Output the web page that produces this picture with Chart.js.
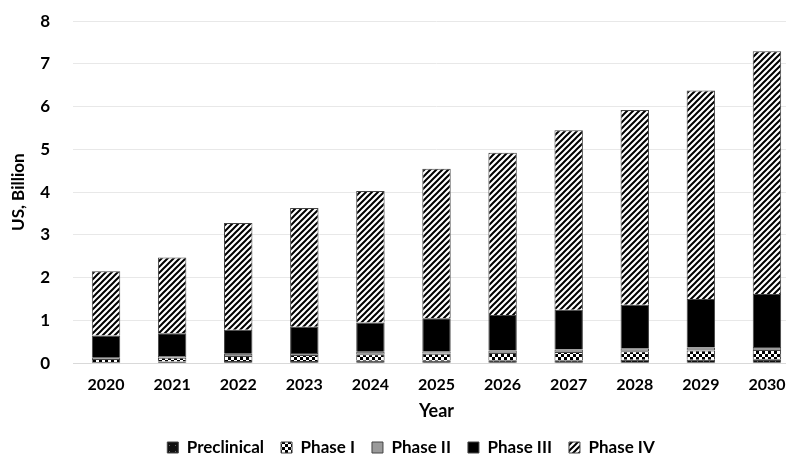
<!DOCTYPE html>
<html>
<head>
<meta charset="utf-8">
<script src="https://cdn.jsdelivr.net/npm/chart.js@4.4.0/dist/chart.umd.min.js"></script>
<style>
  html, body { margin: 0; padding: 0; background: #fff; overflow: hidden; }
  #wrap { width: 800px; height: 478px; margin-top: -12px; }
</style>
</head>
<body>
<div id="wrap"><canvas id="myChart"></canvas></div>
<script>
const years = ['2020', '2021', '2022', '2023', '2024', '2025', '2026', '2027', '2028', '2029', '2030'];
const preclinical = [0.03, 0.04, 0.05, 0.05, 0.06, 0.06, 0.07, 0.07, 0.08, 0.08, 0.09];
const phase1 = [0.07, 0.09, 0.12, 0.14, 0.15, 0.16, 0.17, 0.19, 0.20, 0.22, 0.22];
const phase2 = [0.03, 0.04, 0.05, 0.05, 0.06, 0.06, 0.06, 0.06, 0.07, 0.07, 0.07];
const phase3 = [0.52, 0.53, 0.56, 0.61, 0.68, 0.77, 0.83, 0.93, 1.02, 1.13, 1.24];
const phase4 = [1.50, 1.77, 2.50, 2.78, 3.08, 3.50, 3.79, 4.20, 4.55, 4.88, 5.68];

function makePattern(size, draw) {
    const c = document.createElement('canvas');
    c.width = size;
    c.height = size;
    const g = c.getContext('2d');
    draw(g, size);
    return g.createPattern(c, 'repeat');
}

const ctx = document.getElementById('myChart').getContext('2d');

// diagonal hatch for phase IV
const hatch = makePattern(6, function (g, s) {
    g.fillStyle = '#fff';
    g.fillRect(0, 0, s, s);
    g.strokeStyle = '#000';
    g.lineWidth = 2;
    g.beginPath();
    g.moveTo(-1, s + 1); g.lineTo(s + 1, -1);
    g.moveTo(-1, 1); g.lineTo(1, -1);
    g.moveTo(s - 1, s + 1); g.lineTo(s + 1, s - 1);
    g.stroke();
});

// checker for phase I
const checker = makePattern(6, function (g, s) {
    g.fillStyle = '#000';
    g.fillRect(0, 0, s, s);
    g.fillStyle = '#fff';
    g.fillRect(0, 0, 3, 3);
    g.fillRect(3, 3, 3, 3);
});

// dark dotted for preclinical
const dotted = makePattern(6, function (g, s) {
    g.fillStyle = '#111';
    g.fillRect(0, 0, s, s);
    g.fillStyle = '#666';
    g.fillRect(1, 1, 1, 1);
});

const font = 'Lato, "Open Sans", sans-serif';

const myChart = new Chart(ctx, {
    type: 'bar',
    data: {
        labels: years,
        datasets: [
            { label: 'Preclinical', data: preclinical, backgroundColor: dotted },
            { label: 'Phase I', data: phase1, backgroundColor: checker },
            { label: 'Phase II', data: phase2, backgroundColor: '#9a9a9a' },
            { label: 'Phase III', data: phase3, backgroundColor: '#000' },
            { label: 'Phase IV', data: phase4, backgroundColor: hatch }
        ].map(function (d) {
            d.borderColor = '#444';
            d.borderWidth = 1;
            d.categoryPercentage = 1;
            d.barPercentage = 0.43;
            return d;
        })
    },
    options: {
        responsive: true,
        maintainAspectRatio: false,
        animation: false,
        layout: { padding: { top: 2, left: 22, right: 0, bottom: 0 } },
        scales: {
            x: {
                stacked: true,
                grid: { display: false },
                border: { color: '#d9d9d9' },
                ticks: { color: '#000', padding: 4, font: { family: font, size: 16, weight: 'bold' } },
                title: {
                    display: true, text: 'Year', color: '#000',
                    font: { family: font, size: 18, weight: 'bold' }, padding: { top: 2, bottom: 0 }
                }
            },
            y: {
                stacked: true,
                min: 0,
                max: 8,
                afterFit: function (scale) { scale.width = 51; },
                ticks: {
                    stepSize: 1, color: '#000', padding: 23,
                    font: { family: font, size: 17, weight: 'bold' }
                },
                grid: { color: '#e8e8e8', drawTicks: false },
                border: { display: false },
                title: {
                    display: true, text: 'US, Billion', color: '#000', padding: { top: -14, bottom: 4 },
                    font: { family: font, size: 17, weight: 'bold' }
                }
            }
        },
        plugins: {
            legend: {
                position: 'bottom',
                labels: {
                    boxWidth: 11, boxHeight: 11, color: '#000', padding: 17,
                    font: { family: font, size: 17, weight: 'bold' }
                }
            },
            tooltip: { enabled: false }
        }
    }
});
</script>
</body>
</html>
